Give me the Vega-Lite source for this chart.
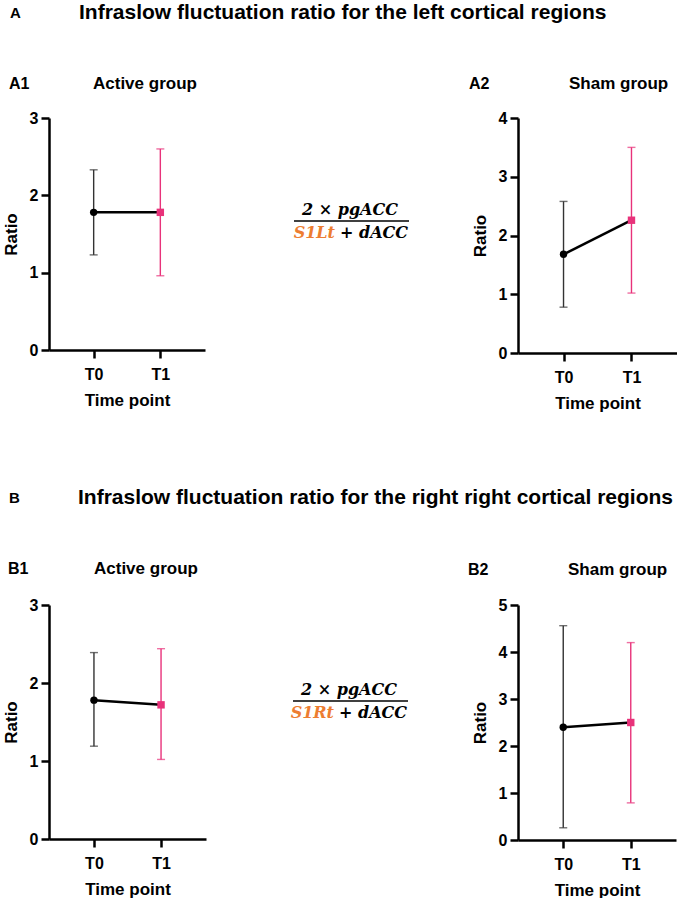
{
  "$schema": "https://vega.github.io/schema/vega-lite/v6.json",
  "background": "white",
  "padding": {"left": 2, "top": 2, "right": 0, "bottom": 0},
  "columns": 2,
  "spacing": {"row": 252, "column": 312},
  "bounds": "flush",
  "config": {
    "view": {"stroke": null},
    "font": "Liberation Sans",
    "axis": {
      "grid": false,
      "domainColor": "#000", "domainWidth": 2.5,
      "tickColor": "#000", "tickWidth": 2.5, "tickSize": 8,
      "labelFont": "Liberation Sans", "labelFontSize": 16, "labelFontWeight": "bold", "labelColor": "#000",
      "titleFont": "Liberation Sans", "titleFontSize": 17, "titleFontWeight": "bold", "titleColor": "#000"
    },
    "axisX": {"labelAngle": 0, "labelPadding": 8, "titleY": 50, "titleBaseline": "middle"},
    "axisY": {"labelPadding": 3, "titleX": -38, "titleBaseline": "middle", "format": "d"}
  },
  "concat": [
    {
      "width": 156, "height": 232,
      "data": {"values": [
        {"time": "T0", "mean": 1.78, "lo": 1.23, "hi": 2.33},
        {"time": "T1", "mean": 1.78, "lo": 0.96, "hi": 2.60}
      ]},
      "layer": [
        {
          "encoding": {
            "x": {"field": "time", "type": "nominal", "title": "Time point", "scale": {"type": "point", "padding": 0.67}}
          },
          "layer": [
            {"mark": {"type": "rule", "strokeWidth": 1.4},
             "encoding": {"y": {"field": "lo", "type": "quantitative", "title": "Ratio", "scale": {"domain": [0, 3], "nice": false}, "axis": {"values": [0, 1, 2, 3]}}, "y2": {"field": "hi"},
                          "color": {"condition": {"test": "datum.time === 'T0'", "value": "#333"}, "value": "#e8327a"}}},
            {"mark": {"type": "tick", "size": 8, "thickness": 1.4},
             "encoding": {"y": {"field": "lo", "type": "quantitative", "title": "Ratio"},
                          "color": {"condition": {"test": "datum.time === 'T0'", "value": "#333"}, "value": "#e8327a"}}},
            {"mark": {"type": "tick", "size": 8, "thickness": 1.4},
             "encoding": {"y": {"field": "hi", "type": "quantitative", "title": "Ratio"},
                          "color": {"condition": {"test": "datum.time === 'T0'", "value": "#333"}, "value": "#e8327a"}}},
            {"mark": {"type": "line", "color": "#000", "strokeWidth": 2.5},
             "encoding": {"y": {"field": "mean", "type": "quantitative", "title": "Ratio"}}},
            {"mark": {"type": "point", "filled": true, "opacity": 1, "size": 55},
             "encoding": {"y": {"field": "mean", "type": "quantitative", "title": "Ratio"},
                          "shape": {"condition": {"test": "datum.time === 'T0'", "value": "circle"}, "value": "square"},
                          "color": {"condition": {"test": "datum.time === 'T0'", "value": "#000"}, "value": "#e8327a"}}}
          ]
        },
        {"data": {"values": [{}]}, "mark": {"type": "text", "text": "A", "x": -39, "y": -105, "align": "left", "baseline": "middle", "fontSize": 15, "fontWeight": "bold", "font": "Liberation Sans", "color": "#000"}},
        {"data": {"values": [{}]}, "mark": {"type": "text", "text": "Infraslow fluctuation ratio for the left cortical regions", "x": 30, "y": -105, "align": "left", "baseline": "middle", "fontSize": 21, "fontWeight": "bold", "font": "Liberation Sans", "color": "#000"}},
        {"data": {"values": [{}]}, "mark": {"type": "text", "text": "A1", "x": -40, "y": -34, "align": "left", "baseline": "middle", "fontSize": 16, "fontWeight": "bold", "font": "Liberation Sans", "color": "#000"}},
        {"data": {"values": [{}]}, "mark": {"type": "text", "text": "Active group", "x": 44, "y": -34, "align": "left", "baseline": "middle", "fontSize": 17, "fontWeight": "bold", "font": "Liberation Sans", "color": "#000"}},
        {"data": {"values": [{}]}, "mark": {"type": "text", "text": "2 × pgACC", "x": 301, "y": 92, "align": "center", "baseline": "middle", "fontSize": 16, "fontWeight": "bold", "fontStyle": "italic", "font": "DejaVu Serif", "color": "#000"}},
        {"data": {"values": [{}]}, "mark": {"type": "rule", "strokeWidth": 1.5, "color": "#000"},
         "encoding": {"x": {"value": 245}, "x2": {"value": 360}, "y": {"value": 103}, "y2": {"value": 103}}},
        {"data": {"values": [{}]}, "mark": {"type": "text", "text": "S1Lt", "x": 286, "y": 115, "align": "right", "baseline": "middle", "fontSize": 16, "fontWeight": "bold", "fontStyle": "italic", "font": "DejaVu Serif", "color": "#ED7D31"}},
        {"data": {"values": [{}]}, "mark": {"type": "text", "text": "+ dACC", "x": 291, "y": 115, "align": "left", "baseline": "middle", "fontSize": 16, "fontWeight": "bold", "fontStyle": "italic", "font": "DejaVu Serif", "color": "#000"}}
      ]
    },
    {
      "width": 159, "height": 235,
      "data": {"values": [
        {"time": "T0", "mean": 1.68, "lo": 0.78, "hi": 2.58},
        {"time": "T1", "mean": 2.26, "lo": 1.02, "hi": 3.50}
      ]},
      "layer": [
        {
          "encoding": {
            "x": {"field": "time", "type": "nominal", "title": "Time point", "scale": {"type": "point", "padding": 0.67}}
          },
          "layer": [
            {"mark": {"type": "rule", "strokeWidth": 1.4},
             "encoding": {"y": {"field": "lo", "type": "quantitative", "title": "Ratio", "scale": {"domain": [0, 4], "nice": false}, "axis": {"values": [0, 1, 2, 3, 4]}}, "y2": {"field": "hi"},
                          "color": {"condition": {"test": "datum.time === 'T0'", "value": "#333"}, "value": "#e8327a"}}},
            {"mark": {"type": "tick", "size": 8, "thickness": 1.4},
             "encoding": {"y": {"field": "lo", "type": "quantitative", "title": "Ratio"},
                          "color": {"condition": {"test": "datum.time === 'T0'", "value": "#333"}, "value": "#e8327a"}}},
            {"mark": {"type": "tick", "size": 8, "thickness": 1.4},
             "encoding": {"y": {"field": "hi", "type": "quantitative", "title": "Ratio"},
                          "color": {"condition": {"test": "datum.time === 'T0'", "value": "#333"}, "value": "#e8327a"}}},
            {"mark": {"type": "line", "color": "#000", "strokeWidth": 2.5},
             "encoding": {"y": {"field": "mean", "type": "quantitative", "title": "Ratio"}}},
            {"mark": {"type": "point", "filled": true, "opacity": 1, "size": 55},
             "encoding": {"y": {"field": "mean", "type": "quantitative", "title": "Ratio"},
                          "shape": {"condition": {"test": "datum.time === 'T0'", "value": "circle"}, "value": "square"},
                          "color": {"condition": {"test": "datum.time === 'T0'", "value": "#000"}, "value": "#e8327a"}}}
          ]
        },
        {"data": {"values": [{}]}, "mark": {"type": "text", "text": "A2", "x": -49, "y": -34, "align": "left", "baseline": "middle", "fontSize": 16, "fontWeight": "bold", "font": "Liberation Sans", "color": "#000"}},
        {"data": {"values": [{}]}, "mark": {"type": "text", "text": "Sham group", "x": 51, "y": -34, "align": "left", "baseline": "middle", "fontSize": 17, "fontWeight": "bold", "font": "Liberation Sans", "color": "#000"}}
      ]
    },
    {
      "width": 157, "height": 234,
      "data": {"values": [
        {"time": "T0", "mean": 1.78, "lo": 1.19, "hi": 2.39},
        {"time": "T1", "mean": 1.72, "lo": 1.02, "hi": 2.44}
      ]},
      "layer": [
        {
          "encoding": {
            "x": {"field": "time", "type": "nominal", "title": "Time point", "scale": {"type": "point", "padding": 0.67}}
          },
          "layer": [
            {"mark": {"type": "rule", "strokeWidth": 1.4},
             "encoding": {"y": {"field": "lo", "type": "quantitative", "title": "Ratio", "scale": {"domain": [0, 3], "nice": false}, "axis": {"values": [0, 1, 2, 3]}}, "y2": {"field": "hi"},
                          "color": {"condition": {"test": "datum.time === 'T0'", "value": "#333"}, "value": "#e8327a"}}},
            {"mark": {"type": "tick", "size": 8, "thickness": 1.4},
             "encoding": {"y": {"field": "lo", "type": "quantitative", "title": "Ratio"},
                          "color": {"condition": {"test": "datum.time === 'T0'", "value": "#333"}, "value": "#e8327a"}}},
            {"mark": {"type": "tick", "size": 8, "thickness": 1.4},
             "encoding": {"y": {"field": "hi", "type": "quantitative", "title": "Ratio"},
                          "color": {"condition": {"test": "datum.time === 'T0'", "value": "#333"}, "value": "#e8327a"}}},
            {"mark": {"type": "line", "color": "#000", "strokeWidth": 2.5},
             "encoding": {"y": {"field": "mean", "type": "quantitative", "title": "Ratio"}}},
            {"mark": {"type": "point", "filled": true, "opacity": 1, "size": 55},
             "encoding": {"y": {"field": "mean", "type": "quantitative", "title": "Ratio"},
                          "shape": {"condition": {"test": "datum.time === 'T0'", "value": "circle"}, "value": "square"},
                          "color": {"condition": {"test": "datum.time === 'T0'", "value": "#000"}, "value": "#e8327a"}}}
          ]
        },
        {"data": {"values": [{}]}, "mark": {"type": "text", "text": "B", "x": -40, "y": -107, "align": "left", "baseline": "middle", "fontSize": 15, "fontWeight": "bold", "font": "Liberation Sans", "color": "#000"}},
        {"data": {"values": [{}]}, "mark": {"type": "text", "text": "Infraslow fluctuation ratio for the right right cortical regions", "x": 29, "y": -107, "align": "left", "baseline": "middle", "fontSize": 21, "fontWeight": "bold", "font": "Liberation Sans", "color": "#000"}},
        {"data": {"values": [{}]}, "mark": {"type": "text", "text": "B1", "x": -41, "y": -36, "align": "left", "baseline": "middle", "fontSize": 16, "fontWeight": "bold", "font": "Liberation Sans", "color": "#000"}},
        {"data": {"values": [{}]}, "mark": {"type": "text", "text": "Active group", "x": 45, "y": -36, "align": "left", "baseline": "middle", "fontSize": 17, "fontWeight": "bold", "font": "Liberation Sans", "color": "#000"}},
        {"data": {"values": [{}]}, "mark": {"type": "text", "text": "2 × pgACC", "x": 300, "y": 85, "align": "center", "baseline": "middle", "fontSize": 16, "fontWeight": "bold", "fontStyle": "italic", "font": "DejaVu Serif", "color": "#000"}},
        {"data": {"values": [{}]}, "mark": {"type": "rule", "strokeWidth": 1.5, "color": "#000"},
         "encoding": {"x": {"value": 244}, "x2": {"value": 359}, "y": {"value": 96}, "y2": {"value": 96}}},
        {"data": {"values": [{}]}, "mark": {"type": "text", "text": "S1Rt", "x": 285, "y": 108, "align": "right", "baseline": "middle", "fontSize": 16, "fontWeight": "bold", "fontStyle": "italic", "font": "DejaVu Serif", "color": "#ED7D31"}},
        {"data": {"values": [{}]}, "mark": {"type": "text", "text": "+ dACC", "x": 290, "y": 108, "align": "left", "baseline": "middle", "fontSize": 16, "fontWeight": "bold", "fontStyle": "italic", "font": "DejaVu Serif", "color": "#000"}}
      ]
    },
    {
      "width": 158, "height": 235,
      "data": {"values": [
        {"time": "T0", "mean": 2.40, "lo": 0.26, "hi": 4.56},
        {"time": "T1", "mean": 2.50, "lo": 0.79, "hi": 4.20}
      ]},
      "layer": [
        {
          "encoding": {
            "x": {"field": "time", "type": "nominal", "title": "Time point", "scale": {"type": "point", "padding": 0.67}}
          },
          "layer": [
            {"mark": {"type": "rule", "strokeWidth": 1.4},
             "encoding": {"y": {"field": "lo", "type": "quantitative", "title": "Ratio", "scale": {"domain": [0, 5], "nice": false}, "axis": {"values": [0, 1, 2, 3, 4, 5]}}, "y2": {"field": "hi"},
                          "color": {"condition": {"test": "datum.time === 'T0'", "value": "#333"}, "value": "#e8327a"}}},
            {"mark": {"type": "tick", "size": 8, "thickness": 1.4},
             "encoding": {"y": {"field": "lo", "type": "quantitative", "title": "Ratio"},
                          "color": {"condition": {"test": "datum.time === 'T0'", "value": "#333"}, "value": "#e8327a"}}},
            {"mark": {"type": "tick", "size": 8, "thickness": 1.4},
             "encoding": {"y": {"field": "hi", "type": "quantitative", "title": "Ratio"},
                          "color": {"condition": {"test": "datum.time === 'T0'", "value": "#333"}, "value": "#e8327a"}}},
            {"mark": {"type": "line", "color": "#000", "strokeWidth": 2.5},
             "encoding": {"y": {"field": "mean", "type": "quantitative", "title": "Ratio"}}},
            {"mark": {"type": "point", "filled": true, "opacity": 1, "size": 55},
             "encoding": {"y": {"field": "mean", "type": "quantitative", "title": "Ratio"},
                          "shape": {"condition": {"test": "datum.time === 'T0'", "value": "circle"}, "value": "square"},
                          "color": {"condition": {"test": "datum.time === 'T0'", "value": "#000"}, "value": "#e8327a"}}}
          ]
        },
        {"data": {"values": [{}]}, "mark": {"type": "text", "text": "B2", "x": -50, "y": -35, "align": "left", "baseline": "middle", "fontSize": 16, "fontWeight": "bold", "font": "Liberation Sans", "color": "#000"}},
        {"data": {"values": [{}]}, "mark": {"type": "text", "text": "Sham group", "x": 50, "y": -35, "align": "left", "baseline": "middle", "fontSize": 17, "fontWeight": "bold", "font": "Liberation Sans", "color": "#000"}}
      ]
    }
  ]
}
